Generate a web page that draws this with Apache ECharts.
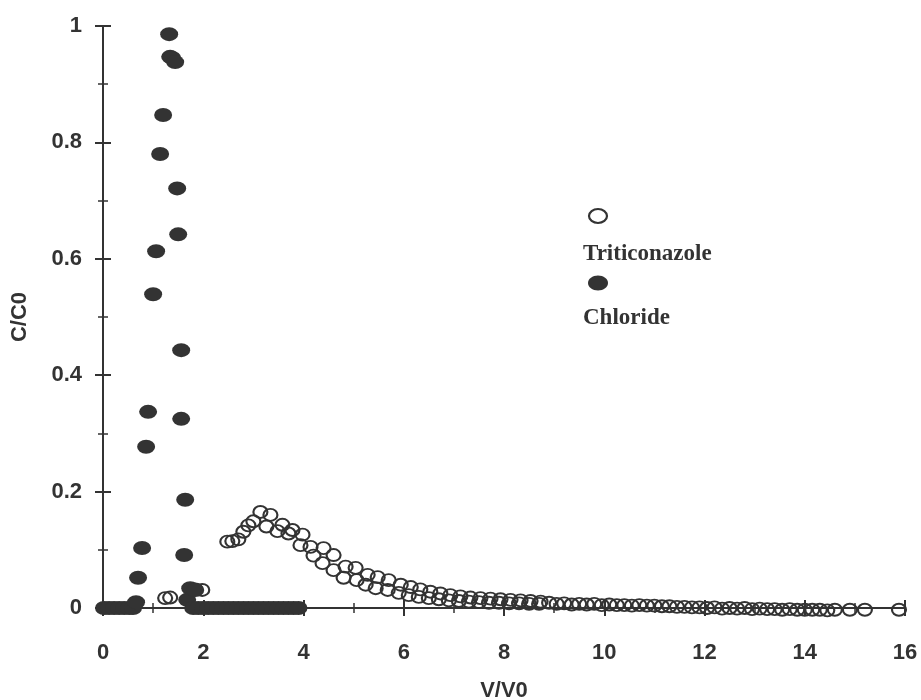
<!DOCTYPE html>
<html>
<head>
<meta charset="utf-8">
<script src="https://cdn.jsdelivr.net/npm/echarts@6/dist/echarts.min.js"></script>
<style>
html,body{margin:0;padding:0;background:#fff;}
#chart{width:921px;height:700px;}
</style>
</head>
<body>
<div id="chart"></div>
<script>
// Chloride (filled circles)
var chlorideX = [0.02,0.12,0.22,0.32,0.42,0.52,0.6,0.66,0.7,0.78,0.86,0.9,1.0,1.06,1.14,1.2,1.32,1.34,1.38,1.44,1.48,1.5,1.56,1.56,1.62,1.64,1.68,1.74,1.84,
  1.8,1.9,2.0,2.1,2.2,2.3,2.4,2.5,2.6,2.7,2.8,2.9,3.0,3.1,3.2,3.3,3.4,3.5,3.6,3.7,3.8,3.9];
var chlorideY = [0,0,0,0,0,0,0,0.01,0.052,0.103,0.277,0.337,0.539,0.613,0.78,0.847,0.986,0.947,0.945,0.938,0.721,0.642,0.443,0.325,0.091,0.186,0.014,0.034,0.031,
  0,0,0,0,0,0,0,0,0,0,0,0,0,0,0,0,0,0,0,0,0,0];

// Triticonazole (open circles)
var triX = [1.24,1.34,1.84,1.98,
  2.48,2.58,2.7,2.8,2.9,3.0,3.14,3.26,3.34,3.48,3.58,3.7,3.78,3.94,3.98,4.14,4.2,4.38,4.4,4.6,4.6,4.8,4.84,5.06,5.04,5.24,5.28,5.44,5.48,5.68,5.7,5.9,5.94,
  6.14,6.1,6.33,6.3,6.53,6.5,6.73,6.7,6.93,6.9,7.13,7.1,7.33,7.3,7.53,7.5,7.73,7.7,7.93,7.9,8.13,8.1,8.33,8.3,8.53,8.5,8.73,8.7,
  8.9,9.05,9.2,9.35,9.5,9.65,9.8,9.95,10.1,10.25,10.4,10.55,10.7,10.85,11.0,11.15,11.3,11.45,11.6,11.75,11.9,12.05,12.2,12.35,12.5,12.65,12.8,12.95,
  13.1,13.25,13.4,13.55,13.7,13.85,14.0,14.15,14.3,14.45,14.6,14.9,15.2,15.88];
var triY = [0.017,0.018,0.032,0.031,
  0.114,0.115,0.118,0.131,0.142,0.149,0.165,0.14,0.16,0.132,0.143,0.128,0.134,0.108,0.126,0.105,0.09,0.077,0.103,0.065,0.091,0.052,0.071,0.048,0.069,0.04,0.057,0.034,0.053,0.031,0.048,0.026,0.04,
  0.036,0.022,0.032,0.019,0.028,0.017,0.025,0.015,0.022,0.013,0.02,0.012,0.018,0.011,0.017,0.01,0.016,0.009,0.015,0.009,0.014,0.008,0.013,0.008,0.012,0.007,0.011,0.007,
  0.009,0.007,0.008,0.006,0.007,0.006,0.007,0.005,0.006,0.005,0.005,0.004,0.005,0.004,0.004,0.003,0.003,0.002,0.002,0.001,0.001,0.0,0.001,-0.001,0.0,-0.001,0.0,-0.002,
  -0.001,-0.002,-0.002,-0.003,-0.002,-0.003,-0.003,-0.003,-0.003,-0.004,-0.003,-0.003,-0.003,-0.003];

var xTicks = {min:0, max:16, interval:2};
var yTicks = {min:0, max:1, interval:0.2};

function zip(a,b){ return a.map(function(v,i){ return [v,b[i]]; }); }

var INK = '#333333';
var labelFont = {color:INK, fontFamily:'Liberation Sans, Arial, sans-serif', fontWeight:'bold', fontSize:22};

var chart = echarts.init(document.getElementById('chart'), null, {renderer:'canvas'});
chart.setOption({
  backgroundColor:'#ffffff',
  animation:false,
  grid:{left:103, right:16, top:26, bottom:92, containLabel:false, outerBoundsMode:'none'},
  xAxis:[{
    type:'value', min:xTicks.min, max:xTicks.max, interval:xTicks.interval,
    name:'V/V0', nameLocation:'middle', nameGap:72,
    nameTextStyle:labelFont,
    axisLine:{show:true, lineStyle:{color:INK, width:2}},
    axisTick:{show:true, inside:false, length:8, lineStyle:{color:INK, width:2}},
    minorTick:{show:true, splitNumber:2, length:5, lineStyle:{color:INK, width:1.5}},
    axisLabel:Object.assign({margin:34}, labelFont),
    splitLine:{show:false}
  },{
    type:'value', min:xTicks.min, max:xTicks.max, interval:xTicks.interval, position:'bottom',
    axisLine:{show:false},
    axisTick:{show:true, inside:true, length:8, lineStyle:{color:INK, width:2}},
    minorTick:{show:true, splitNumber:2, length:5, lineStyle:{color:INK, width:1.5}},
    axisLabel:{show:false}, splitLine:{show:false}
  }],
  yAxis:[{
    type:'value', min:yTicks.min, max:yTicks.max, interval:yTicks.interval,
    name:'C/C0', nameLocation:'middle', nameGap:72, nameRotate:90,
    nameTextStyle:labelFont,
    axisLine:{show:true, lineStyle:{color:INK, width:2}},
    axisTick:{show:true, inside:false, length:8, lineStyle:{color:INK, width:2}},
    minorTick:{show:true, splitNumber:2, length:5, lineStyle:{color:INK, width:1.5}},
    axisLabel:Object.assign({margin:21}, labelFont),
    splitLine:{show:false}
  },{
    type:'value', min:yTicks.min, max:yTicks.max, interval:yTicks.interval, position:'left',
    axisLine:{show:false},
    axisTick:{show:true, inside:true, length:8, lineStyle:{color:INK, width:2}},
    minorTick:{show:true, splitNumber:2, length:5, lineStyle:{color:INK, width:1.5}},
    axisLabel:{show:false}, splitLine:{show:false}
  }],
  series:[{
    name:'Triticonazole', type:'scatter', clip:false,
    data:zip(triX, triY),
    symbol:'circle', symbolSize:[14,12],
    itemStyle:{color:'rgba(255,255,255,0)', borderColor:INK, borderWidth:2, opacity:1},
    z:3
  },{
    name:'Chloride', type:'scatter', clip:false,
    data:zip(chlorideX, chlorideY),
    symbol:'circle', symbolSize:[18,14],
    itemStyle:{color:INK, borderWidth:0, opacity:1},
    z:4
  }],
  graphic:[
    {type:'ellipse', shape:{cx:598, cy:216, rx:9, ry:7}, style:{fill:'none', stroke:INK, lineWidth:2.2}},
    {type:'text', left:583, top:243, style:{text:'Triticonazole', fill:INK, font:'bold 23px "Liberation Serif", "Times New Roman", serif'}},
    {type:'ellipse', shape:{cx:598, cy:283, rx:10, ry:7.5}, style:{fill:INK}},
    {type:'text', left:583, top:307, style:{text:'Chloride', fill:INK, font:'bold 23px "Liberation Serif", "Times New Roman", serif'}}
  ]
});
</script>
</body>
</html>
